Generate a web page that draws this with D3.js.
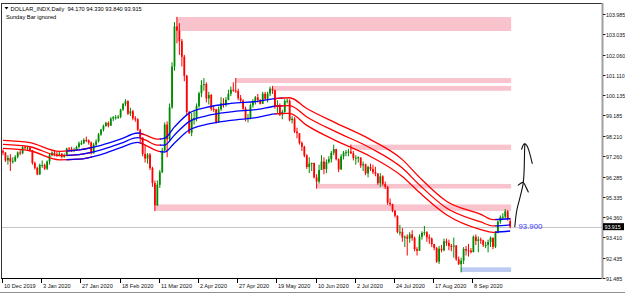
<!DOCTYPE html>
<html>
<head>
<meta charset="utf-8">
<script src="https://cdn.jsdelivr.net/npm/d3@7"></script>
<style>
body { margin: 0; background: #fff; }
svg { display: block; font-family: "Liberation Sans", Arial, sans-serif; }
</style>
</head>
<body>
<svg id="chart" width="625" height="294"></svg>
<script>
// DOLLAR_INDX daily, 10 Dec 2019 .. 29 Sep 2020 (Sunday bars ignored)
var closes = [
  97.42,97.05,97.17,97.00,97.03,97.22,97.43,97.39,97.68,97.66,
  97.66,97.53,96.93,96.70,96.39,96.84,96.84,96.66,97.00,97.30,
  97.42,97.35,97.34,97.37,97.22,97.31,97.62,97.60,97.55,97.55,
  97.69,97.86,97.87,98.02,98.00,97.90,97.39,97.80,97.95,98.28,
  98.51,98.68,98.83,98.70,99.03,99.10,99.10,99.12,99.46,99.72,
  99.86,99.27,99.38,99.05,99.00,98.50,98.13,97.36,97.14,97.33,
  96.69,95.98,94.93,95.90,96.50,97.52,98.75,98.05,99.57,101.50,
  103.40,103.20,102.70,101.96,101.06,99.35,98.36,99.04,99.05,99.62,
  100.23,100.62,100.67,99.99,100.15,99.49,99.47,98.86,99.47,99.76,
  99.68,99.92,100.21,100.40,100.36,100.34,100.00,99.88,99.50,99.02,
  99.07,99.66,99.81,100.04,99.91,99.73,100.21,99.97,100.22,100.45,
  100.37,99.60,99.66,99.22,99.35,99.86,99.88,98.96,99.03,98.42,
  98.34,97.88,97.70,97.28,96.74,96.90,96.93,96.25,96.05,96.60,
  97.00,96.64,96.98,97.11,97.41,97.59,97.11,96.63,97.24,97.42,
  97.44,97.47,97.39,97.17,97.18,97.20,96.81,96.87,96.44,96.74,
  96.64,96.50,96.43,95.97,96.30,95.93,95.80,95.05,94.98,94.67,
  94.43,93.66,93.67,93.40,93.44,93.35,93.55,93.38,92.85,92.77,
  93.44,93.62,93.65,93.41,93.35,93.09,92.91,92.26,92.87,92.80,
  93.22,93.15,93.00,92.99,93.02,92.37,92.14,92.31,92.86,92.79,
  92.78,92.71,93.44,93.24,93.31,93.27,93.05,93.05,93.19,93.39,
  92.96,93.64,94.16,94.36,94.39,94.64,94.28,93.915
];
var highs = [
  97.58,97.45,97.30,97.35,97.20,97.30,97.48,97.55,97.75,97.75,
  97.72,97.70,97.55,97.00,96.75,96.90,97.05,96.90,97.05,97.40,
  97.48,97.50,97.45,97.45,97.40,97.38,97.65,97.68,97.70,97.65,
  97.75,97.95,98.00,98.10,98.18,98.05,97.95,97.88,98.05,98.35,
  98.55,98.75,98.88,98.90,99.10,99.15,99.20,99.20,99.50,99.78,
  99.95,99.90,99.55,99.45,99.15,99.05,98.55,98.15,97.80,97.40,
  97.40,96.75,96.10,96.10,96.60,97.65,98.85,98.90,99.75,101.70,
  103.60,103.85,103.55,102.80,102.05,101.10,99.40,99.30,99.45,99.75,
  100.30,100.85,100.95,100.75,100.30,100.20,99.65,99.50,99.60,100.05,
  100.00,100.05,100.40,100.55,100.75,100.95,100.45,100.15,99.95,99.60,
  99.25,99.75,99.95,100.10,100.20,99.95,100.30,100.30,100.30,100.55,
  100.58,100.40,99.90,99.75,99.45,99.95,99.98,99.95,99.15,99.10,
  98.60,98.35,97.95,97.75,97.35,97.20,96.95,96.95,96.40,96.85,
  97.30,97.20,97.10,97.25,97.50,97.80,97.60,97.15,97.35,97.50,
  97.55,97.60,97.80,97.50,97.30,97.25,97.15,97.00,96.90,96.80,
  96.90,96.85,96.75,96.45,96.45,96.35,96.05,95.85,95.25,95.00,
  94.70,94.45,94.00,93.85,93.50,93.55,93.65,93.75,93.45,92.95,
  93.55,93.70,93.95,93.70,93.55,93.40,93.10,92.95,93.00,93.05,
  93.35,93.35,93.30,93.10,93.40,93.05,92.50,92.45,92.95,93.00,
  93.10,92.90,93.50,93.55,93.45,93.40,93.30,93.20,93.30,93.45,
  93.40,93.70,94.20,94.45,94.55,94.75,94.70,94.33
];
var lows = [
  97.30,96.98,96.85,96.55,96.90,96.98,97.15,97.30,97.35,97.58,
  97.55,97.48,96.85,96.62,96.35,96.36,96.70,96.60,96.60,96.85,
  97.25,97.25,97.22,97.25,97.15,97.18,97.28,97.50,97.45,97.45,
  97.50,97.62,97.78,97.82,97.92,97.80,97.33,97.38,97.72,97.90,
  98.22,98.42,98.65,98.62,98.68,98.92,98.98,99.02,99.05,99.40,
  99.62,99.20,99.15,98.95,98.88,98.45,97.90,97.25,96.95,96.90,
  96.60,95.80,94.65,94.90,95.75,96.45,97.50,97.20,97.95,99.50,
  101.30,102.60,102.05,101.50,100.80,99.20,98.30,98.20,98.75,98.90,
  99.55,100.05,100.35,99.80,99.70,99.40,99.35,98.80,98.85,99.40,
  99.55,99.60,99.90,100.10,100.30,100.25,99.90,99.80,99.45,98.90,
  98.85,99.00,99.55,99.70,99.80,99.70,99.75,99.90,99.80,100.10,
  100.20,99.50,99.30,99.15,99.00,99.30,99.75,98.90,98.80,98.35,
  98.10,97.80,97.50,97.20,96.65,96.45,96.55,96.20,95.72,95.95,
  96.60,96.40,96.45,96.90,96.95,97.30,97.05,96.50,96.60,97.10,
  97.25,97.25,97.35,97.05,96.85,96.95,96.70,96.55,96.35,96.25,
  96.55,96.40,96.30,95.90,95.80,95.85,95.70,94.95,94.90,94.60,
  94.35,93.60,93.50,93.20,92.95,92.55,93.15,93.25,92.75,92.55,
  92.80,93.30,93.50,93.20,93.10,92.95,92.80,92.20,92.15,92.70,
  92.75,93.00,92.80,92.75,92.45,92.30,92.10,91.75,92.15,92.55,
  92.50,92.65,92.70,93.05,92.70,93.10,92.95,92.90,92.70,92.95,
  92.85,92.90,93.60,94.05,94.25,94.30,94.20,93.84
];
var firstOpen = 97.50;
var lastOpen = 94.17;
var lastHigh = 94.33, lastLow = 93.84, lastClose = 93.915;

// time axis labels (bar index of each label)
var dateTicks = [0, 16, 32, 48, 64, 80, 96, 112, 128, 144, 160, 176, 192];
var dateLabels = ["10 Dec 2019", "3 Jan 2020", "27 Jan 2020", "18 Feb 2020", "11 Mar 2020",
  "2 Apr 2020", "27 Apr 2020", "19 May 2020", "10 Jun 2020", "2 Jul 2020",
  "24 Jul 2020", "17 Aug 2020", "8 Sep 2020"];

// price scale labels
var priceTicks = [103.985, 103.035, 102.060, 101.110, 100.135, 99.185, 98.210,
  97.260, 96.285, 95.335, 94.360, 93.410, 92.435, 91.485];

// moving average channel (read at sample bars)
var bandBars = [0, 11, 23, 31, 40, 48, 55, 58, 63, 66, 70, 76, 83, 93, 104, 112, 117, 124, 136, 150, 163, 170, 181, 195, 200, 207];
var bandMid = [97.81, 97.70, 97.28, 97.33, 97.55, 97.86, 98.13, 98.02, 97.78, 97.78, 98.26, 98.89, 99.16, 99.35, 99.47, 99.63, 99.65, 99.11, 98.40, 97.64, 96.69, 95.89, 94.80, 94.14, 93.95, 94.00];
var bandHalf = [0.19, 0.19, 0.20, 0.22, 0.22, 0.20, 0.22, 0.24, 0.28, 0.33, 0.38, 0.40, 0.40, 0.40, 0.38, 0.36, 0.37, 0.40, 0.42, 0.40, 0.40, 0.36, 0.32, 0.36, 0.30, 0.29];
var bandSegFrom = [0, 26, 56, 64, 111, 201];
var bandSegTo = [36, 57, 64, 114, 201, 207];
var bandSegDir = ["down", "up", "down", "up", "down", "up"];
var bandValue = 93.900;

// supply / demand zones
var zoneStart = [71, 95, 110, 142, 128, 62, 187];
var zoneTop = [103.84, 100.95, 100.58, 97.80, 95.94, 94.97, 91.99];
var zoneBottom = [103.18, 100.72, 100.35, 97.55, 95.72, 94.66, 91.77];
var zoneKind = ["supply", "supply", "supply", "supply", "supply", "supply", "demand"];

// hand drawn arrows [bar, price]
var arrowShaft = [[208.9, 93.92], [209.7, 94.68], [210.9, 95.24], [212.3, 95.95], [212.7, 96.58], [212.9, 97.53], [213.0, 97.83]];
var arrowHeadTop = [[211.7, 97.58], [212.7, 97.83], [213.7, 97.78], [214.8, 97.46], [216.0, 96.91]];
var arrowHeadMid = [[210.3, 95.88], [212.3, 96.01], [213.4, 95.80], [214.4, 95.56]];

var width = 625, height = 294;
var svg = d3.select("#chart");

var x = d3.scaleLinear().domain([0, 244.49]).range([3, 602]);
var y = d3.scaleLinear().domain([91.485, 103.985]).range([278, 14]);

var n = closes.length;
var bars = closes.map(function(c, i) {
    var o = i === 0 ? firstOpen : closes[i - 1];
    if (i === n - 1) o = lastOpen;
    return { i: i, o: o, h: highs[i], l: lows[i], c: c };
});

// zones
var zoneColor = { supply: "#f8c3cc", demand: "#bccbf2" };
svg.append("g").selectAll("rect")
    .data(zoneStart)
    .enter()
    .append("rect")
    .attr("x", function(d) { return x(d) - 0.5; })
    .attr("width", function(d) { return x(n - 0.6) - x(d) + 0.5; })
    .attr("y", function(d, k) { return y(zoneTop[k]); })
    .attr("height", function(d, k) { return y(zoneBottom[k]) - y(zoneTop[k]); })
    .attr("fill", function(d, k) { return zoneColor[zoneKind[k]]; });

// last price line
svg.append("line")
    .attr("x1", 2).attr("x2", 602)
    .attr("y1", Math.round(y(lastClose)) + 0.5).attr("y2", Math.round(y(lastClose)) + 0.5)
    .attr("stroke", "#c6c6c6").attr("stroke-width", 1);

// candles
var cg = svg.append("g");
bars.forEach(function(b) {
    var col = b.c >= b.o ? "#008a00" : "#ff0000";
    var cx = x(b.i);
    cg.append("line")
        .attr("x1", cx).attr("x2", cx)
        .attr("y1", y(b.h)).attr("y2", y(b.l))
        .attr("stroke", col).attr("stroke-width", 1);
    var top = y(Math.max(b.o, b.c));
    var hgt = Math.max(1, Math.abs(y(b.o) - y(b.c)));
    cg.append("rect")
        .attr("x", cx - 0.9).attr("width", 1.8)
        .attr("y", top).attr("height", hgt)
        .attr("fill", col);
});

// MA channel, coloured by direction
var defs = svg.append("defs");
var bandLine = d3.line()
    .x(function(d) { return x(d[0]); })
    .y(function(d) { return y(d[1]); })
    .curve(d3.curveMonotoneX);
var bg = svg.append("g");
bandSegFrom.forEach(function(from, s) {
    var id = "seg" + s;
    defs.append("clipPath").attr("id", id)
        .append("rect")
        .attr("x", x(from)).attr("width", x(bandSegTo[s]) - x(from) + 1)
        .attr("y", 0).attr("height", height);
    [-1, 0, 1].forEach(function(k) {
        var pts = bandBars.map(function(b, j) { return [b, bandMid[j] + k * bandHalf[j]]; });
        bg.append("path")
            .attr("d", bandLine(pts))
            .attr("clip-path", "url(#" + id + ")")
            .attr("fill", "none")
            .attr("stroke", bandSegDir[s] === "up" ? "#0000ff" : "#ff0000")
            .attr("stroke-width", 1.3);
    });
});

// channel value label
svg.append("text")
    .attr("x", x(210.4)).attr("y", y(bandValue) + 1.8)
    .attr("fill", "#3a3aff")
    .attr("font-size", "7.8px")
    .text(bandValue.toFixed(3));

// arrows
var arrowLine = d3.line()
    .x(function(d) { return x(d[0]); })
    .y(function(d) { return y(d[1]); })
    .curve(d3.curveCatmullRom);
[arrowShaft, arrowHeadTop, arrowHeadMid].forEach(function(a) {
    svg.append("path")
        .attr("d", arrowLine(a))
        .attr("fill", "none")
        .attr("stroke", "#111")
        .attr("stroke-width", 1.1)
        .attr("stroke-linecap", "round");
});

// frame
svg.append("line").attr("x1", 1.5).attr("x2", 1.5).attr("y1", 3).attr("y2", 279)
    .attr("stroke", "#333");
svg.append("line").attr("x1", 1).attr("x2", 603).attr("y1", 3.5).attr("y2", 3.5)
    .attr("stroke", "#333");
svg.append("line").attr("x1", 1).attr("x2", 603).attr("y1", 278.5).attr("y2", 278.5)
    .attr("stroke", "#000");
svg.append("line").attr("x1", 602.5).attr("x2", 602.5).attr("y1", 3).attr("y2", 279)
    .attr("stroke", "#a0a0a0").attr("stroke-width", 2);
svg.append("line").attr("x1", 0).attr("x2", width).attr("y1", 292.5).attr("y2", 292.5)
    .attr("stroke", "#909090");

// price axis
var pa = svg.append("g").attr("font-size", "5.3px").attr("fill", "#111");
priceTicks.forEach(function(p) {
    var py = Math.round(y(p)) + 0.5;
    pa.append("line").attr("x1", 603).attr("x2", 605.5).attr("y1", py).attr("y2", py)
        .attr("stroke", "#222");
    pa.append("text").attr("x", 606).attr("y", py + 2).text(p.toFixed(3));
});
var ly = y(lastClose);
pa.append("rect").attr("x", 603).attr("y", ly - 3.5).attr("width", 21).attr("height", 7).attr("fill", "#000");
pa.append("text").attr("x", 604.5).attr("y", ly + 2).attr("fill", "#fff").text(lastClose.toFixed(3));

// time axis
var ta = svg.append("g").attr("font-size", "5.6px").attr("fill", "#111");
dateTicks.forEach(function(b, k) {
    var tx = Math.round(x(b)) - 0.5;
    ta.append("line").attr("x1", tx).attr("x2", tx).attr("y1", 279).attr("y2", 283)
        .attr("stroke", "#000");
    ta.append("text").attr("x", tx + 1.5).attr("y", 287.5).text(dateLabels[k]);
});

// header
svg.append("path").attr("d", "M4.5,7 L8.5,7 L6.5,9.5 Z").attr("fill", "#000");
svg.append("text").attr("x", 10.5).attr("y", 10.7)
    .attr("font-size", "5.7px").attr("fill", "#000")
    .style("white-space", "pre")
    .text("DOLLAR_INDX,Daily  " + [lastOpen, lastHigh, lastLow, lastClose].map(function(v) { return v.toFixed(3); }).join(" "));
svg.append("text").attr("x", 6).attr("y", 19.3)
    .attr("font-size", "5.7px").attr("fill", "#000")
    .text("Sunday Bar ignored");
</script>
</body>
</html>
